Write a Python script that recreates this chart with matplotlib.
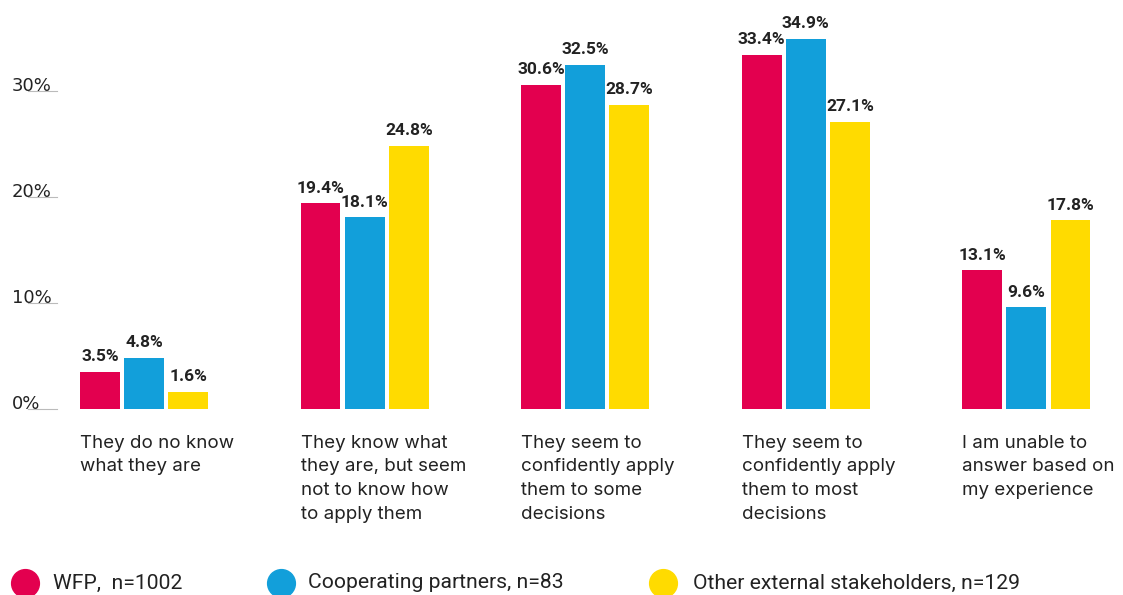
import numpy as np
import matplotlib.pyplot as plt
from matplotlib.lines import Line2D

categories = [
    "They do no know\nwhat they are",
    "They know what\nthey are, but seem\nnot to know how\nto apply them",
    "They seem to\nconfidently apply\nthem to some\ndecisions",
    "They seem to\nconfidently apply\nthem to most\ndecisions",
    "I am unable to\nanswer based on\nmy experience",
]
series_names = ["WFP,  n=1002", "Cooperating partners, n=83", "Other external stakeholders, n=129"]
wfp = [3.5, 19.4, 30.6, 33.4, 13.1]
partners = [4.8, 18.1, 32.5, 34.9, 9.6]
others = [1.6, 24.8, 28.7, 27.1, 17.8]
yticks = [0, 10, 20, 30]

colors = ["#E3004F", "#129FDA", "#FFDB00"]
text_color = "#222222"

W, H = 1123, 595
fig = plt.figure(figsize=(W / 100, H / 100), dpi=100)
# axes in pixel terms: x 60..1110, baseline at y=409 px from top
ax = fig.add_axes([60 / W, (H - 409) / H, 1050 / W, (409 - 20) / H])

x = np.arange(len(categories))
bw = 0.181
step = 0.2
for k, (vals, col) in enumerate(zip([wfp, partners, others], colors)):
    pos = x + (k - 1) * step
    ax.bar(pos, vals, width=bw, color=col)
    for p, v in zip(pos, vals):
        ax.annotate(f"{v:.1f}%", (p, v), xytext=(0, 5.5), textcoords="offset points",
                    ha="center", va="bottom", fontsize=12.5, fontweight="bold",
                    family="Roboto", color=text_color)

ax.set_xlim(-0.381, 4.379)
ax.set_ylim(0, 36.7)
ax.axis("off")

# y labels with a short grey underline at each value
ytr = ax.get_yaxis_transform()
for t in yticks:
    ax.plot([-0.0305, -0.0029], [t, t], transform=ytr, color="#BBBBBB", lw=0.8, clip_on=False)
    ax.text(-0.0457, t, f"{t}%", transform=ytr, ha="left", va="baseline",
            fontsize=13, family="DejaVu Sans", color=text_color)

# category labels, left aligned with the first bar of each group
for i, c in enumerate(categories):
    ax.annotate(c, xy=(i - step - bw / 2, 0), xycoords=("data", "axes fraction"),
                xytext=(0, -18.5), textcoords="offset points", ha="left", va="top",
                fontsize=13.5, family="Inter", color=text_color, linespacing=1.52)

# legend row along the bottom
leg_y = (H - 583) / H
marker_x = [25, 281, 663]
label_x = [53, 308, 693]
for mx, lx, col, name in zip(marker_x, label_x, colors, series_names):
    fig.add_artist(Line2D([mx / W], [leg_y], transform=fig.transFigure, ls="none",
                          marker="o", markersize=20, color=col))
    fig.text(lx / W, leg_y, name, ha="left", va="center", fontsize=15.2,
             family="Roboto", color=text_color)

fig.savefig("out.png", dpi=100)
